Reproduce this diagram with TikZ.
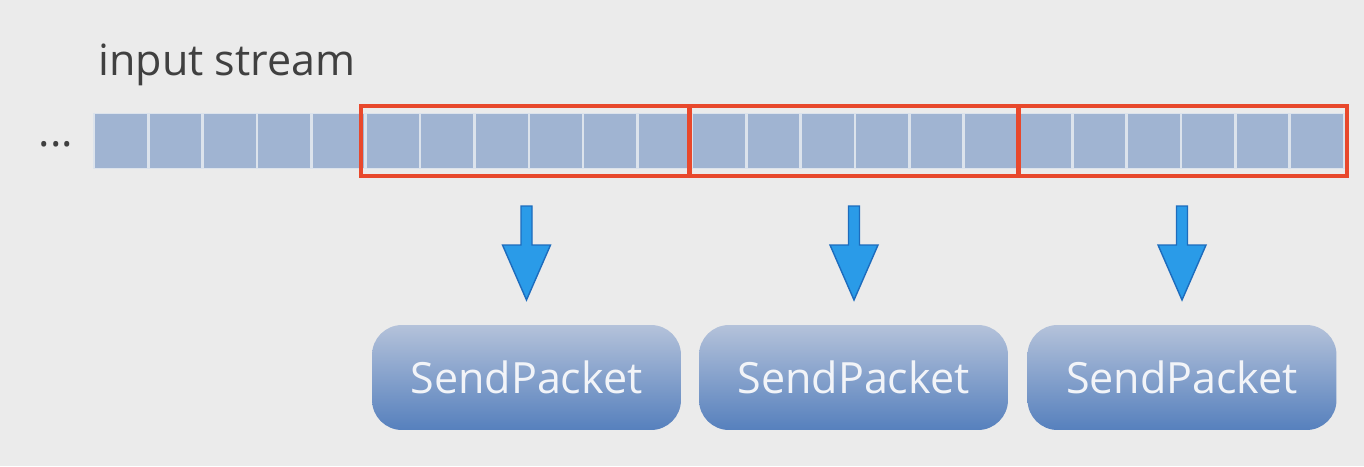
\documentclass[tikz,border=0pt]{standalone}
\usepackage{fontspec}
\setmainfont{Open Sans}

\definecolor{bggray}{HTML}{EBEBEB}
\definecolor{cellblue}{HTML}{A0B4D2}
\definecolor{gapblue}{HTML}{DCE3EC}
\definecolor{winred}{HTML}{E8482C}
\definecolor{arrowfill}{HTML}{2A9BE8}
\definecolor{arrowline}{HTML}{1D6CBD}
\definecolor{packettop}{HTML}{B4C2DA}
\definecolor{packetbottom}{HTML}{5680BD}
\definecolor{packettext}{HTML}{F2F4F8}
\definecolor{labelgray}{HTML}{404040}

\tikzset{
  cell/.style={fill=cellblue, draw=none, minimum width=1.035cm, minimum height=1.1cm, inner sep=0pt},
  window/.style={draw=winred, line width=2.8pt, minimum height=1.4cm, inner sep=0pt},
  blockarrow/.style={fill=arrowfill, draw=arrowline, line width=0.8pt, line join=miter},
  packet/.style={rounded corners=0.6cm, minimum width=6.18cm, minimum height=2.1cm,
    top color=packettop, bottom color=packetbottom, text=packettext,
    font=\fontsize{24.5}{29}\selectfont},
  label/.style={text=labelgray, font=\fontsize{24.5}{29}\selectfont, inner sep=0pt}
}

\begin{document}
\begin{tikzpicture}[x=0.02cm, y=-0.02cm]

    % Background
    \fill[bggray] (0,0) rectangle (1364,466);
    \useasboundingbox (0,0) rectangle (1364,466);

    % Stream label and dots
    \node[label, anchor=base west] (title) at (98,75) {input stream};
    \node[label, anchor=base] (dots) at (56,146) {...};

    % Stream cells
    \fill[gapblue] (93,113) rectangle (1345,169);
    \foreach \i in {0,...,22}
        \node[cell] (c\i) at ({121.2+\i*54.35},141) {};

    % Packet windows
    \node[window, minimum width=6.56cm] (win1) at (525,141) {};
    \node[window, minimum width=6.58cm] (win2) at (853.5,141) {};
    \node[window, minimum width=6.58cm] (win3) at (1182.5,141) {};

    % Arrows (block shape, from top middle)
    \foreach \n/\x in {1/526.5, 2/854, 3/1182} {
        \coordinate (arr\n) at (\x,206);
        \draw[blockarrow] (arr\n) ++(-5.5,0) -- ++(11,0) -- ++(0,39) -- ++(18.5,0)
            -- ++(-24,55) -- ++(-24,-55) -- ++(18.5,0) -- cycle;
    }

    % SendPacket boxes
    \node[packet] (pkt1) at (526.5,377.5) {SendPacket};
    \node[packet] (pkt2) at (853.5,377.5) {SendPacket};
    \node[packet] (pkt3) at (1182,377.5) {SendPacket};

\end{tikzpicture}
\end{document}
